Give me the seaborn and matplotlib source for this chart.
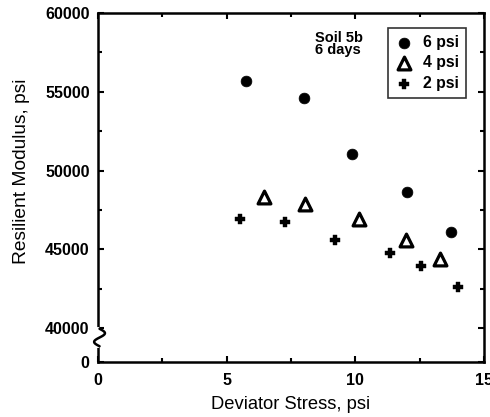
import numpy as np
import pandas as pd
import matplotlib
matplotlib.use("Agg")
import matplotlib.pyplot as plt
import seaborn as sns

# Data
x_6psi = [5.75, 8.0, 9.85, 12.0, 13.7]
y_6psi = [55700, 54600, 51050, 48650, 46100]
x_4psi = [6.45, 8.05, 10.15, 11.95, 13.3]
y_4psi = [48350, 47900, 46900, 45600, 44400]
x_2psi = [5.5, 7.25, 9.2, 11.35, 12.55, 14.0]
y_2psi = [46950, 46750, 45600, 44750, 43950, 42600]
series_labels = ["6 psi", "4 psi", "2 psi"]
y_tick_values = [40000, 45000, 50000, 55000, 60000]
y_tick_labels = ["40000", "45000", "50000", "55000", "60000"]
x_tick_values = [0, 5, 10, 15]

sns.set_style("ticks")
plt.rcParams['font.family'] = ['Liberation Sans', 'DejaVu Sans']
plt.rcParams['text.color'] = 'black'
plt.rcParams['axes.labelcolor'] = 'black'
plt.rcParams['xtick.color'] = 'black'
plt.rcParams['ytick.color'] = 'black'

fig = plt.figure(figsize=(4.9, 4.17), dpi=100)
ax = fig.add_axes([0.2, 0.132, 0.788, 0.837])

df6 = pd.DataFrame({"x": x_6psi, "y": y_6psi})
df4 = pd.DataFrame({"x": x_4psi, "y": y_4psi})
df2 = pd.DataFrame({"x": x_2psi, "y": y_2psi})

sns.scatterplot(data=df6, x="x", y="y", ax=ax, marker="o", s=60,
                color="black", edgecolor="black", linewidth=0.5, label=series_labels[0])
sns.scatterplot(data=df4, x="x", y="y", ax=ax, marker="^", s=85,
                facecolor="white", edgecolor="black", linewidth=2.3, label=series_labels[1])
sns.scatterplot(data=df2, x="x", y="y", ax=ax, marker="P", s=42,
                color="black", edgecolor="black", linewidth=0.3, label=series_labels[2])

ybottom = 37850
ax.set_xlim(0, 15)
ax.set_ylim(ybottom, 60000)
ax.set_xticks(x_tick_values)
ax.set_xticklabels([str(v) for v in x_tick_values])
ax.set_xticks([2.5, 7.5, 12.5], minor=True)
ax.set_yticks([ybottom] + y_tick_values)
ax.set_yticklabels(["0"] + y_tick_labels)
ax.set_yticks([42500, 47500, 52500, 57500], minor=True)

ax.tick_params(which="both", direction="in", top=True, right=True,
               width=1.5, labelsize=11.5)
ax.tick_params(axis="x", pad=8)
ax.tick_params(axis="y", pad=6)
ax.tick_params(which="major", length=4)
ax.tick_params(which="minor", length=3)
for lab in ax.get_xticklabels() + ax.get_yticklabels():
    lab.set_fontweight("bold")

for sp in ax.spines.values():
    sp.set_linewidth(1.8)
    sp.set_color("black")

ax.set_xlabel("Deviator Stress, psi", fontsize=13.2, labelpad=6)
ax.set_ylabel("Resilient Modulus, psi", fontsize=13.8, labelpad=8)
ax.yaxis.set_label_coords(-0.177, 0.545)

ax.text(0.562, 0.948, "Soil 5b\n6 days", transform=ax.transAxes, fontsize=10.5,
        fontweight="bold", va="top", ha="left", linespacing=0.85)

leg = ax.legend(loc="upper right", bbox_to_anchor=(0.954, 0.957), frameon=True,
                fancybox=False, edgecolor="black", fontsize=11.3, handletextpad=0.6,
                borderpad=0.45, labelspacing=0.35, handlelength=1.2, borderaxespad=0)
leg.get_frame().set_linewidth(1.2)
for t in leg.get_texts():
    t.set_fontweight("bold")

# axis break symbol on the y-axis
ax.plot([0, 0], [0.045, 0.095], transform=ax.transAxes, color="white", lw=3,
        clip_on=False, zorder=5)
tt = np.linspace(0, 1, 40)
sx = 0.004 + 0.014 * np.sin(2 * np.pi * tt)
sy = 0.095 - 0.05 * tt
ax.plot(sx, sy, transform=ax.transAxes, color="black", lw=1.8, clip_on=False, zorder=6)

fig.savefig("out.png", dpi=100)
